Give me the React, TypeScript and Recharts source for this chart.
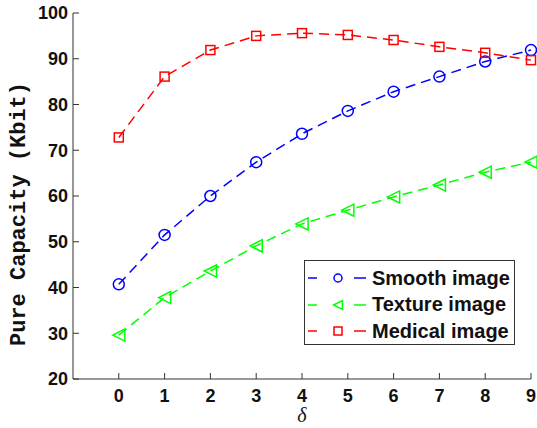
import { LineChart, Line, XAxis, YAxis, Legend } from 'recharts';

const deltas = [0, 1, 2, 3, 4, 5, 6, 7, 8, 9];
const smooth = [40.7, 51.5, 60.0, 67.4, 73.6, 78.6, 82.8, 86.1, 89.4, 91.9];
const texture = [29.6, 37.8, 43.6, 49.1, 53.9, 56.9, 59.8, 62.4, 65.2, 67.4];
const medical = [72.8, 86.1, 91.9, 95.0, 95.6, 95.2, 94.1, 92.6, 91.3, 89.7];
const xTicks = [0, 1, 2, 3, 4, 5, 6, 7, 8, 9];
const yTicks = [20, 30, 40, 50, 60, 70, 80, 90, 100];

const data = deltas.map((d, i) => ({
  d,
  smooth: smooth[i],
  texture: texture[i],
  medical: medical[i],
}));

const AXIS = '#333';
const TICK_FONT = { fontFamily: 'Liberation Sans, Arial, sans-serif', fontWeight: 700, fontSize: 18, fill: '#111' };

type Shape = 'circle' | 'triangle' | 'square';

const series: { key: string; name: string; color: string; shape: Shape }[] = [
  { key: 'smooth', name: 'Smooth image', color: '#0000ff', shape: 'circle' },
  { key: 'texture', name: 'Texture image', color: '#00ff00', shape: 'triangle' },
  { key: 'medical', name: 'Medical image', color: '#ff0000', shape: 'square' },
];

function Marker({ cx, cy, shape, color, size }: { cx: number; cy: number; shape: Shape; color: string; size: number }) {
  if (shape === 'circle') {
    return <circle cx={cx} cy={cy} r={size} fill="none" stroke={color} strokeWidth={1.5} />;
  }
  if (shape === 'square') {
    return <rect x={cx - size} y={cy - size} width={size * 2} height={size * 2} fill="none" stroke={color} strokeWidth={1.5} />;
  }
  const s = size * 1.1;
  return (
    <polygon
      points={`${cx - s},${cy} ${cx + s},${cy - s} ${cx + s},${cy + s}`}
      fill="none"
      stroke={color}
      strokeWidth={1.5}
    />
  );
}

const makeDot = (shape: Shape, color: string, size: number) => (props: any) => {
  const { cx, cy, index } = props;
  if (cx == null || cy == null) return <g key={index} />;
  return <Marker key={index} cx={cx} cy={cy} shape={shape} color={color} size={size} />;
};

const BottomTick = ({ x, y, payload }: any) => (
  <g>
    <line x1={x} y1={y} x2={x} y2={y - 6} stroke={AXIS} />
    <text x={x} y={y + 23} textAnchor="middle" {...TICK_FONT}>{payload.value}</text>
  </g>
);
const TopTick = ({ x, y }: any) => <line x1={x} y1={y} x2={x} y2={y + 6} stroke={AXIS} />;
const LeftTick = ({ x, y, payload }: any) => (
  <g>
    <line x1={x} y1={y} x2={x + 6} y2={y} stroke={AXIS} />
    <text x={x - 5} y={y} dy="0.36em" textAnchor="end" {...TICK_FONT}>{payload.value}</text>
  </g>
);
const RightTick = ({ x, y }: any) => <line x1={x} y1={y} x2={x - 6} y2={y} stroke={AXIS} />;

function LegendBox() {
  return (
    <div
      style={{
        width: 211,
        height: 85,
        background: '#fff',
        border: `1px solid ${AXIS}`,
        boxSizing: 'border-box',
        paddingTop: 4,
      }}
    >
      {series.map((s) => (
        <div key={s.key} style={{ display: 'flex', alignItems: 'center', height: 26.5 }}>
          <svg width={67} height={20} style={{ display: 'block' }}>
            <line x1={3} y1={10} x2={12} y2={10} stroke={s.color} strokeWidth={1.5} />
            <line x1={49} y1={10} x2={61} y2={10} stroke={s.color} strokeWidth={1.5} />
            <Marker cx={33} cy={10} shape={s.shape} color={s.color} size={4} />
          </svg>
          <span style={{ fontFamily: 'Liberation Sans, Arial, sans-serif', fontWeight: 700, fontSize: 20, color: '#111' }}>
            {s.name}
          </span>
        </div>
      ))}
    </div>
  );
}

export default function App() {
  return (
    <div style={{ position: 'absolute', left: 0, top: 0, width: 537, height: 428, background: '#fff' }}>
      <LineChart width={537} height={428} data={data} margin={{ top: 13, right: 6, bottom: 19, left: 0 }}>
        <XAxis
          dataKey="d"
          type="number"
          domain={[-1, 9]}
          ticks={xTicks}
          tickSize={0}
          tickMargin={0}
          tickLine={false}
          axisLine={{ stroke: AXIS }}
          tick={BottomTick}
          height={30}
          label={{
            content: ({ viewBox }: any) => (
              <text
                x={viewBox.x + viewBox.width / 2}
                y={viewBox.y + 43}
                textAnchor="middle"
                fontFamily="Liberation Serif, serif"
                fontStyle="italic"
                fontSize={20}
                fill="#111"
              >
                δ
              </text>
            ),
          }}
        />
        <XAxis
          xAxisId="top"
          orientation="top"
          type="number"
          domain={[-1, 9]}
          ticks={xTicks}
          tickSize={0}
          tickMargin={0}
          tickLine={false}
          axisLine={{ stroke: AXIS }}
          tick={TopTick}
          height={0}
        />
        <YAxis
          type="number"
          domain={[20, 100]}
          ticks={yTicks}
          tickSize={0}
          tickMargin={0}
          tickLine={false}
          axisLine={{ stroke: AXIS }}
          tick={LeftTick}
          width={73}
          label={{
            content: ({ viewBox }: any) => {
              const cx = viewBox.x + 19;
              const cy = viewBox.y + viewBox.height / 2 + 18;
              return (
                <text
                  x={cx}
                  y={cy}
                  transform={`rotate(-90 ${cx} ${cy})`}
                  textAnchor="middle"
                  dominantBaseline="central"
                  fontFamily="Liberation Mono, Courier New, monospace"
                  fontWeight={700}
                  fontSize={22}
                  fill="#111"
                >
                  Pure Capacity (Kbit)
                </text>
              );
            },
          }}
        />
        <YAxis
          yAxisId="right"
          orientation="right"
          type="number"
          domain={[20, 100]}
          ticks={yTicks}
          tickSize={0}
          tickMargin={0}
          tickLine={false}
          axisLine={{ stroke: AXIS }}
          tick={RightTick}
          width={0}
        />
        {series.map((s) => (
          <Line
            key={s.key}
            dataKey={s.key}
            name={s.name}
            stroke={s.color}
            strokeWidth={1.5}
            strokeDasharray="10 6"
            dot={makeDot(s.shape, s.color, s.shape === 'square' ? 4.5 : 5.5)}
            isAnimationActive={false}
          />
        ))}
        <Legend
          layout="vertical"
          align="center"
          verticalAlign="middle"
          wrapperStyle={{ left: 304, top: 260, width: 211 }}
          content={() => <LegendBox />}
        />
      </LineChart>
    </div>
  );
}
